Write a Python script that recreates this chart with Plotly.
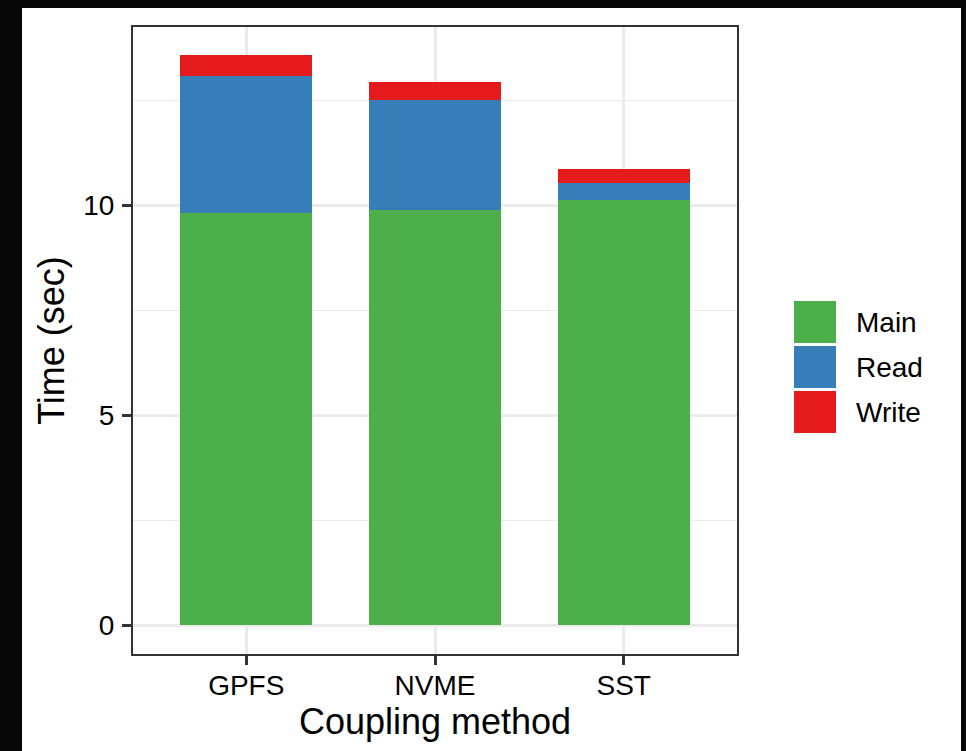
import plotly.graph_objects as go

categories = ["GPFS", "NVME", "SST"]
main_vals = [9.82, 9.89, 10.13]
read_vals = [3.26, 2.62, 0.39]
write_vals = [0.49, 0.42, 0.34]
series_names = ["Main", "Read", "Write"]
series_colors = ["#4DAF4A", "#377EB8", "#E41A1C"]
y_ticks = [0, 5, 10]

W, H = 966, 751
L, R, T, B = 133, 229, 27, 97
pw, ph = W - L - R, H - T - B

def px_x(x):
    return (x - L) / pw

def px_y(y):
    return (H - B - y) / ph

fig = go.Figure()
for name, vals, col in zip(series_names, [main_vals, read_vals, write_vals], series_colors):
    fig.add_trace(go.Bar(x=categories, y=vals, name=name, marker=dict(color=col, line=dict(width=0)),
                         width=0.7, showlegend=False))

font_fam = "Liberation Sans, Arial, Helvetica, sans-serif"
shapes = [
    # white card behind the chart
    dict(type="rect", xref="paper", yref="paper", x0=px_x(22), x1=px_x(961), y0=px_y(752), y1=px_y(8),
         fillcolor="white", line=dict(width=0), layer="below"),
]
annotations = []
key_tops = [301, 346, 391]
for name, col, top in zip(series_names, series_colors, key_tops):
    shapes.append(dict(type="rect", xref="paper", yref="paper", x0=px_x(794), x1=px_x(836),
                       y0=px_y(top + 42), y1=px_y(top), fillcolor=col, line=dict(width=0)))
    annotations.append(dict(text=name, xref="paper", yref="paper", x=px_x(854), y=px_y(top + 21),
                            xanchor="left", yanchor="middle", showarrow=False,
                            font=dict(size=28, color="black", family=font_fam)))

fig.update_layout(
    width=W, height=H,
    margin=dict(l=L, r=R, t=T, b=B, autoexpand=False),
    barmode="stack",
    paper_bgcolor="#070707",
    plot_bgcolor="white",
    font=dict(family=font_fam, color="black"),
    shapes=shapes,
    annotations=annotations,
    showlegend=False,
    xaxis=dict(
        range=[-0.6, 2.6], showgrid=True, gridcolor="#EBEBEB", gridwidth=2.5,
        showline=True, linecolor="#333333", linewidth=2, mirror=True,
        ticks="outside", ticklen=9, tickwidth=2.5, tickcolor="#333333",
        tickfont=dict(size=28, color="black"), ticklabelstandoff=-4,
        title=dict(text="Coupling method", font=dict(size=36, color="black"), standoff=4),
        zeroline=False, automargin=False,
    ),
    yaxis=dict(
        range=[-0.69, 14.24], tickvals=y_ticks, ticktext=[str(v) for v in y_ticks],
        showgrid=True, gridcolor="#EBEBEB", gridwidth=2.5,
        minor=dict(tickvals=[2.5, 7.5, 12.5], showgrid=True, gridcolor="#EBEBEB", gridwidth=1.2, ticks=""),
        showline=True, linecolor="#333333", linewidth=2, mirror=True,
        ticks="outside", ticklen=9, tickwidth=2.5, tickcolor="#333333",
        tickfont=dict(size=28, color="black"), ticklabelstandoff=2,
        title=dict(text="Time (sec)", font=dict(size=36, color="black"), standoff=8),
        zeroline=False, automargin=False,
    ),
)

fig.write_html(
    "out.html",
    config={"displayModeBar": False},
    post_script="document.body.style.margin='0';document.body.style.padding='0';"
                "document.body.style.background='#070707';document.body.style.overflow='hidden';",
)
